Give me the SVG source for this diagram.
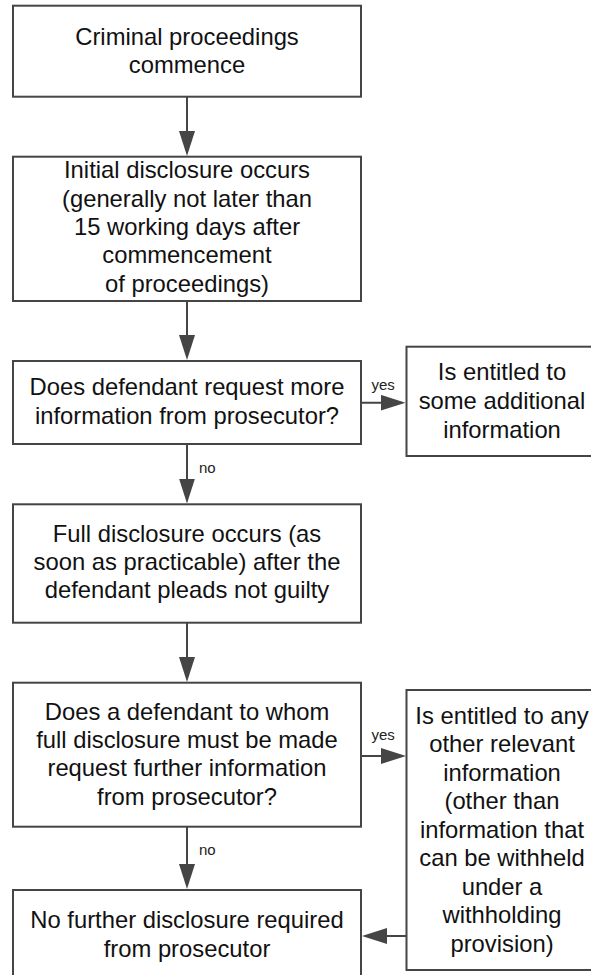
<svg xmlns="http://www.w3.org/2000/svg" width="591" height="975" viewBox="0 0 591 975">
<style>
  .box { fill: #ffffff; stroke: #454545; stroke-width: 2; }
  .t { font-family: "Liberation Sans", Arial, sans-serif; font-size: 23.8px; fill: #111111; text-anchor: middle; }
  .lbl { font-family: "Liberation Sans", Arial, sans-serif; font-size: 15px; fill: #222222; }
  .conn { stroke: #454545; stroke-width: 2; fill: none; marker-end: url(#ah); }
</style>
<defs>
  <marker id="ah" viewBox="0 0 25 16" refX="20" refY="8" markerWidth="25" markerHeight="16" markerUnits="userSpaceOnUse" orient="auto">
    <path d="M0,0 L25,8 L0,16 z" fill="#454545"/>
  </marker>
</defs>
<rect width="591" height="975" fill="#ffffff"/>

<g id="connectors">
  <line class="conn" x1="187" y1="97" x2="187" y2="151"/>
  <line class="conn" x1="187" y1="301" x2="187" y2="355"/>
  <line class="conn" x1="187" y1="444" x2="187" y2="498.5"/>
  <line class="conn" x1="187" y1="623" x2="187" y2="677"/>
  <line class="conn" x1="187" y1="827" x2="187" y2="884"/>
  <line class="conn" x1="361" y1="402.7" x2="400.5" y2="402.7"/>
  <line class="conn" x1="361" y1="756" x2="401" y2="756"/>
  <line class="conn" x1="406.5" y1="936" x2="367" y2="936"/>
  <text class="lbl" x="371.5" y="390">yes</text>
  <text class="lbl" x="371.5" y="740">yes</text>
  <text class="lbl" x="199" y="473">no</text>
  <text class="lbl" x="199" y="855">no</text>
</g>

<g id="n1">
  <rect class="box" x="13" y="5.7" width="348" height="91"/>
  <text class="t" x="187" y="45">Criminal proceedings</text>
  <text class="t" x="187" y="73">commence</text>
</g>

<g id="n2">
  <rect class="box" x="13" y="156.7" width="348" height="144.3"/>
  <text class="t" x="187" y="178.3">Initial disclosure occurs</text>
  <text class="t" x="187" y="206.7">(generally not later than</text>
  <text class="t" x="187" y="235">15 working days after</text>
  <text class="t" x="187" y="263.4">commencement</text>
  <text class="t" x="187" y="291.8">of proceedings)</text>
</g>

<g id="n3">
  <rect class="box" x="13" y="361" width="348" height="83"/>
  <text class="t" x="187" y="395">Does defendant request more</text>
  <text class="t" x="187" y="424">information from prosecutor?</text>
</g>

<g id="n4">
  <rect class="box" x="406.5" y="346.7" width="191" height="109.3"/>
  <text class="t" x="502" y="380">Is entitled to</text>
  <text class="t" x="502" y="409">some additional</text>
  <text class="t" x="502" y="437.5">information</text>
</g>

<g id="n5">
  <rect class="box" x="13" y="504.3" width="348" height="118.4"/>
  <text class="t" x="187" y="541.7">Full disclosure occurs (as</text>
  <text class="t" x="187" y="570">soon as practicable) after the</text>
  <text class="t" x="187" y="598.3">defendant pleads not guilty</text>
</g>

<g id="n6">
  <rect class="box" x="13" y="682.7" width="348" height="144"/>
  <text class="t" x="187" y="719.6">Does a defendant to whom</text>
  <text class="t" x="187" y="748">full disclosure must be made</text>
  <text class="t" x="187" y="776.4">request further information</text>
  <text class="t" x="187" y="804.8">from prosecutor?</text>
</g>

<g id="n7">
  <rect class="box" x="406.5" y="690" width="191" height="280"/>
  <text class="t" x="502" y="723.5">Is entitled to any</text>
  <text class="t" x="502" y="752">other relevant</text>
  <text class="t" x="502" y="780.5">information</text>
  <text class="t" x="502" y="809">(other than</text>
  <text class="t" x="502" y="837.5">information that</text>
  <text class="t" x="502" y="866">can be withheld</text>
  <text class="t" x="502" y="894.5">under a</text>
  <text class="t" x="502" y="923">withholding</text>
  <text class="t" x="502" y="951.5">provision)</text>
</g>

<g id="n8">
  <rect class="box" x="13" y="890" width="348" height="92"/>
  <text class="t" x="187" y="928">No further disclosure required</text>
  <text class="t" x="187" y="956.7">from prosecutor</text>
</g>
</svg>
